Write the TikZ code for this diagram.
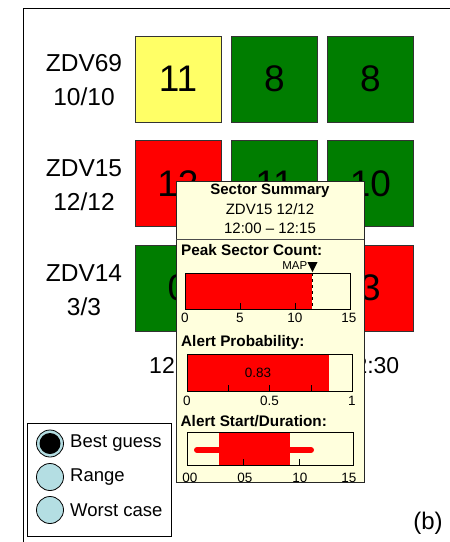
\documentclass[tikz,border=0pt]{standalone}
\usepackage{fontspec}
\setmainfont{Liberation Sans}
\definecolor{cgreen}{HTML}{007D00}
\definecolor{cyellow}{HTML}{FFFF66}
\definecolor{cred}{HTML}{FF0000}
\definecolor{popfill}{HTML}{FFFFDD}
\definecolor{lblue}{HTML}{B4DEE3}
\begin{document}
\begin{tikzpicture}[x=1pt,y=-1pt,
  cell/.style={draw=black!80, line width=0.8pt, minimum width=86pt, minimum height=86pt, inner sep=0pt, font=\fontsize{37}{37}\selectfont},
  rowlab/.style={align=center, font=\fontsize{24.5}{34}\selectfont},
  timelab/.style={font=\fontsize{23}{23}\selectfont},
  poptxt/.style={font=\fontsize{15}{15}\selectfont},
  sectitle/.style={anchor=west, inner sep=0pt, font=\bfseries\fontsize{15.3}{15.3}\selectfont},
  ticklab/.style={inner sep=0pt, font=\fontsize{13.5}{13.5}\selectfont},
  barbox/.style={draw=black, line width=0.7pt},
  tickline/.style={line width=0.7pt},
  legcirc/.style={circle, draw=black, line width=0.8pt, fill=lblue, minimum size=27pt, inner sep=0pt},
  legtxt/.style={anchor=west, inner sep=0pt, font=\fontsize{18.5}{18.5}\selectfont}
]
\useasboundingbox (0,0) rectangle (450,542);
% frame
\coordinate (fr1) at (450,8);
\coordinate (fr2) at (23,8);
\coordinate (fr3) at (23,542);
\draw[line width=0.9pt] (fr1) -- (fr2) -- (fr3);

% row labels
\node[rowlab] (l69) at (84,80) {ZDV69\\10/10};
\node[rowlab] (l15) at (84,185) {ZDV15\\12/12};
\node[rowlab] (l14) at (84,290) {ZDV14\\3/3};

% cells
\node[cell, fill=cyellow] (c11) at (178,79) {11};
\node[cell, fill=cgreen] (c12) at (274.5,79) {8};
\node[cell, fill=cgreen] (c13) at (370.5,79) {8};
\node[cell, fill=cred] (c21) at (178,183.5) {12};
\node[cell, fill=cgreen] (c22) at (274.5,183.5) {11};
\node[cell, fill=cgreen] (c23) at (370.5,183.5) {10};
\node[cell, fill=cgreen] (c31) at (178,288) {0};
\node[cell, fill=cred] (c33) at (370.5,288) {3};

% time labels (middle one lies fully under the popup)
\node[timelab] (t1) at (178,366) {12:00};
\node[timelab] (t3) at (370.5,366) {12:30};

% popup
\node[draw=black!85, line width=0.9pt, fill=popfill, minimum width=188pt, minimum height=301pt, inner sep=0pt] (pop) at (270,331.5) {};
\coordinate (sepL) at (176,239);
\coordinate (sepR) at (364,239);
\draw[black!70, line width=0.8pt] (sepL) -- (sepR);
\node[poptxt, font=\bfseries\fontsize{15}{15}\selectfont] (h1) at (270,191) {Sector Summary};
\node[poptxt] (h2) at (270,209.5) {ZDV15 12/12};
\node[poptxt] (h3) at (270,228) {12:00 -- 12:15};

% Peak Sector Count
\node[sectitle] (s1) at (181,250) {Peak Sector Count:};
\fill[cred] (185,273) rectangle (312,309);
\draw[barbox] (185,273) rectangle (350,309);
\draw[dashed, line width=0.8pt] (312,273) -- (312,309);
\fill[black] (307.5,262) -- (317.5,262) -- (312.5,272) -- cycle;
\node[anchor=east, inner sep=0pt, font=\fontsize{11.5}{11.5}\selectfont] (map) at (307.5,266) {MAP};
\draw[tickline] (240,309) -- (240,303) (295,309) -- (295,303);
\node[ticklab] at (185,318) {0};
\node[ticklab] at (240,318) {5};
\node[ticklab] at (295,318) {10};
\node[ticklab] at (349,318) {15};

% Alert Probability
\node[sectitle] (s2) at (181,343) {Alert Probability:};
\fill[cred] (187,354) rectangle (329,391);
\draw[barbox] (187,354) rectangle (352,391);
\draw[tickline] (228,391) -- (228,385) (269.5,391) -- (269.5,385) (311,391) -- (311,385);
\node[ticklab] at (258,373) {0.83};
\node[ticklab] at (187,401) {0};
\node[ticklab] at (269.5,401) {0.5};
\node[ticklab] at (352,401) {1};

% Alert Start/Duration
\node[sectitle] (s3) at (180.5,421) {Alert Start/Duration:};
\draw[cred, line width=6pt, line cap=round] (197,450) -- (311,450);
\fill[cred] (219,432) rectangle (290,465);
\draw[barbox] (187,432) rectangle (353,465);
\draw[tickline] (243,465) -- (243,459) (299,465) -- (299,459);
\node[ticklab] at (190,478) {00};
\node[ticklab] at (245,478) {05};
\node[ticklab] at (300,478) {10};
\node[ticklab] at (349,478) {15};

% legend
\node[draw=black, line width=0.9pt, minimum width=144pt, minimum height=113pt, inner sep=0pt] (leg) at (99,480) {};
\node[legcirc] (g1) at (50,443.5) {};
\fill[black] (g1.center) circle (10.5pt);
\node[legcirc] (g2) at (50,477) {};
\node[legcirc] (g3) at (50,510) {};
\node[legtxt] at (70,443.5) {Best guess};
\node[legtxt] at (70,477) {Range};
\node[legtxt] at (70,510) {Worst case};

% panel label
\node[font=\fontsize{24}{24}\selectfont] (b) at (428,523) {(b)};
\end{tikzpicture}
\end{document}
